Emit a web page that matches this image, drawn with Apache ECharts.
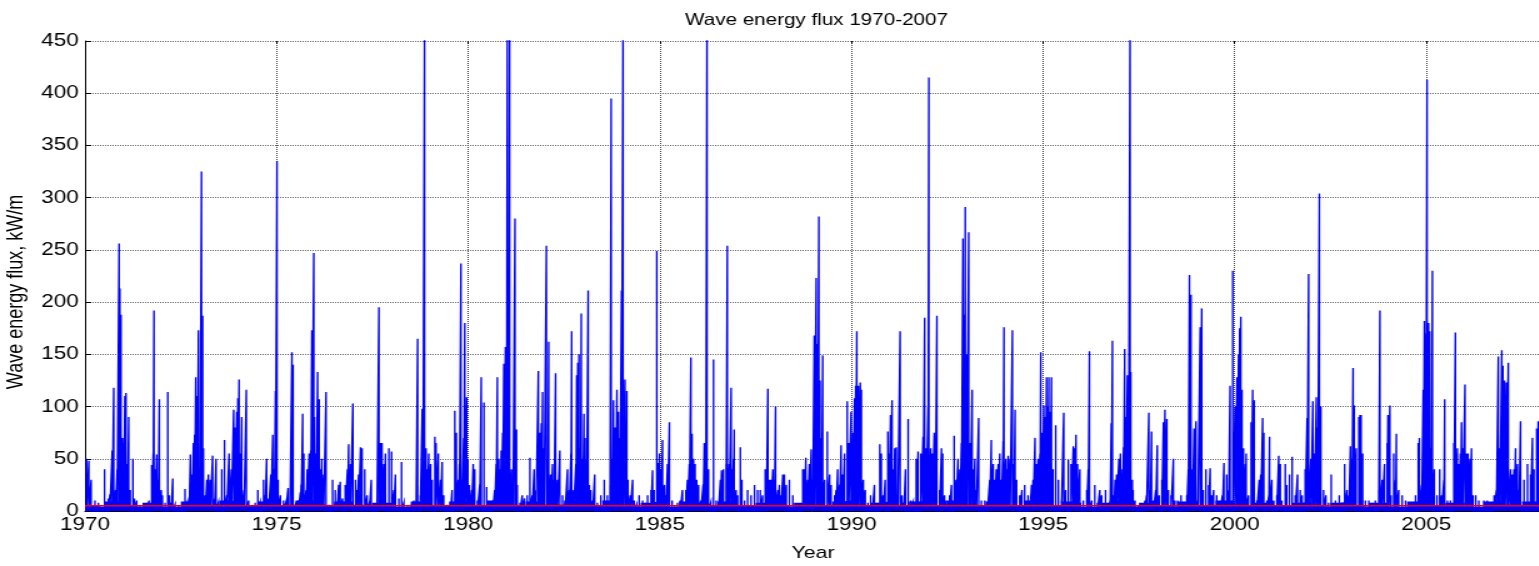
<!DOCTYPE html>
<html style="height: 100%">
<head>
<meta charset="utf-8">
<script src="https://cdn.jsdelivr.net/npm/echarts@6/dist/echarts.min.js"></script>
</head>
<body style="height: 100%; margin: 0; background: #fff">
<!-- the original figure was exported with a horizontal stretch, so the chart is drawn narrower and scaled in x -->
<div id="container" style="width: 1231.2px; height: 566px; transform: scaleX(1.25); transform-origin: 0 0"></div>
<script type="text/javascript">
var titleText = 'Wave energy flux 1970-2007';
var xName = 'Year';
var yName = 'Wave energy flux, kW/m';
var yearTicks = [1970, 1975, 1980, 1985, 1990, 1995, 2000, 2005];
var meanFlux = 5;

// storm peaks: [decimal year, kW/m]
var peaks1970s = [
  [1970.04,50],[1970.10,48],[1970.16,30],[1970.26,10],[1970.35,8],[1970.51,40],[1970.61,12],[1970.65,16],
  [1970.71,58],[1970.75,118],[1970.80,20],[1970.84,40],[1970.89,256],[1970.91,213],[1970.94,188],[1970.98,70],
  [1971.01,65],[1971.04,110],[1971.07,113],[1971.11,45],[1971.14,90],[1971.18,20],[1971.25,50],[1971.29,12],
  [1971.35,10],[1971.44,5],[1971.52,6],[1971.63,8],[1971.67,10],[1971.74,44],[1971.78,55],[1971.80,192],
  [1971.84,40],[1971.87,54],[1971.91,30],[1971.94,107],[1971.99,20],[1972.02,15],[1972.09,8],[1972.16,114],
  [1972.20,15],[1972.25,8],[1972.29,31],[1972.35,6],[1972.44,5],[1972.53,6],[1972.61,21],[1972.67,8],
  [1972.72,10],[1972.75,54],[1972.79,35],[1972.83,65],[1972.86,73],[1972.89,128],[1972.93,110],[1972.96,173],
  [1973.00,30],[1973.04,325],[1973.07,187],[1973.09,60],[1973.14,15],[1973.18,30],[1973.22,35],[1973.27,30],
  [1973.33,53],[1973.38,12],[1973.42,50],[1973.48,8],[1973.57,40],[1973.64,68],[1973.70,15],[1973.76,55],
  [1973.82,40],[1973.88,97],[1973.92,80],[1973.96,95],[1973.99,108],[1974.02,126],[1974.06,55],[1974.09,90],
  [1974.15,20],[1974.21,116],[1974.27,10],[1974.36,5],[1974.44,8],[1974.51,20],[1974.57,8],[1974.66,30],
  [1974.70,15],[1974.74,50],[1974.79,12],[1974.85,35],[1974.90,73],[1974.94,40],[1974.97,115],[1975.01,335],
  [1975.04,30],[1975.10,15],[1975.18,10],[1975.24,8],[1975.30,22],[1975.35,6],[1975.40,152],[1975.43,140],
  [1975.49,6],[1975.57,10],[1975.62,18],[1975.64,25],[1975.68,93],[1975.71,55],[1975.77,20],[1975.80,40],
  [1975.85,55],[1975.89,58],[1975.92,173],[1975.97,247],[1975.99,90],[1976.03,55],[1976.07,133],[1976.11,107],
  [1976.15,40],[1976.18,50],[1976.23,35],[1976.29,114],[1976.36,6],[1976.46,30],[1976.53,20],[1976.58,8],
  [1976.62,25],[1976.66,28],[1976.72,12],[1976.79,25],[1976.85,40],[1976.88,64],[1976.93,45],[1976.99,103],
  [1977.06,30],[1977.10,20],[1977.14,35],[1977.19,61],[1977.23,60],[1977.30,40],[1977.36,15],[1977.42,8],
  [1977.47,30],[1977.54,5],[1977.62,10],[1977.67,195],[1977.71,65],[1977.75,65],[1977.80,45],[1977.84,55],
  [1977.93,60],[1978.00,57],[1978.06,20],[1978.10,35],[1978.19,12],[1978.26,47],[1978.32,8],[1978.41,5],
  [1978.49,6],[1978.58,10],[1978.64,8],[1978.68,165],[1978.75,15],[1978.80,98],[1978.82,85],[1978.86,470],
  [1978.90,60],[1978.93,40],[1978.97,55],[1979.02,45],[1979.06,30],[1979.13,71],[1979.16,65],[1979.22,55],
  [1979.28,30],[1979.32,47],[1979.36,15],[1979.45,6],[1979.54,8],[1979.58,20],[1979.65,96],[1979.69,75],
  [1979.74,30],[1979.77,45],[1979.81,237],[1979.84,30],[1979.88,70],[1979.91,180],[1979.96,109],[1979.99,50]
];
var peaks1980s = [
  [1980.03,25],[1980.09,20],[1980.13,45],[1980.17,40],[1980.24,10],[1980.30,25],[1980.34,128],[1980.41,104],
  [1980.48,23],[1980.57,6],[1980.64,10],[1980.69,20],[1980.73,45],[1980.76,128],[1980.80,50],[1980.84,40],
  [1980.86,58],[1980.90,75],[1980.93,141],[1980.97,157],[1981.00,80],[1981.02,470],[1981.05,80],[1981.08,470],
  [1981.13,40],[1981.17,20],[1981.22,280],[1981.26,78],[1981.28,25],[1981.35,8],[1981.41,15],[1981.47,12],
  [1981.54,15],[1981.61,51],[1981.67,15],[1981.72,40],[1981.77,20],[1981.83,134],[1981.87,75],[1981.91,84],
  [1981.94,114],[1981.98,60],[1982.04,254],[1982.08,50],[1982.10,162],[1982.15,35],[1982.20,45],[1982.24,30],
  [1982.28,132],[1982.33,30],[1982.39,58],[1982.46,15],[1982.53,8],[1982.59,40],[1982.64,20],[1982.68,55],
  [1982.70,172],[1982.75,20],[1982.81,45],[1982.83,130],[1982.86,142],[1982.89,150],[1982.93,60],[1982.95,189],
  [1982.99,50],[1983.02,93],[1983.05,70],[1983.09,50],[1983.13,211],[1983.16,25],[1983.20,20],[1983.25,10],
  [1983.30,35],[1983.37,8],[1983.46,15],[1983.55,30],[1983.63,15],[1983.70,25],[1983.73,395],[1983.77,50],
  [1983.79,106],[1983.83,80],[1983.85,60],[1983.88,116],[1983.92,95],[1983.96,70],[1984.00,211],[1984.04,470],
  [1984.09,126],[1984.12,60],[1984.14,115],[1984.17,30],[1984.23,15],[1984.29,30],[1984.33,10],[1984.39,6],
  [1984.46,15],[1984.55,10],[1984.61,5],[1984.68,15],[1984.77,20],[1984.81,39],[1984.85,20],[1984.92,249],
  [1984.96,46],[1984.99,55],[1985.03,40],[1985.07,68],[1985.12,25],[1985.16,15],[1985.20,45],[1985.25,85],
  [1985.32,10],[1985.39,5],[1985.46,8],[1985.53,10],[1985.59,20],[1985.68,20],[1985.72,30],[1985.77,45],
  [1985.81,147],[1985.84,74],[1985.88,50],[1985.92,45],[1985.96,30],[1986.01,25],[1986.07,10],[1986.13,25],
  [1986.16,65],[1986.20,60],[1986.23,470],[1986.27,40],[1986.33,8],[1986.40,145],[1986.47,10],[1986.53,5],
  [1986.58,30],[1986.61,39],[1986.66,40],[1986.73,45],[1986.76,254],[1986.81,45],[1986.86,118],[1986.89,40],
  [1986.92,50],[1986.94,78],[1986.99,20],[1987.03,15],[1987.10,61],[1987.14,30],[1987.21,10],[1987.29,20],
  [1987.38,15],[1987.47,25],[1987.55,20],[1987.62,20],[1987.68,15],[1987.75,40],[1987.78,25],[1987.82,117],
  [1987.86,30],[1987.90,30],[1987.95,40],[1987.99,30],[1988.02,100],[1988.08,20],[1988.12,25],[1988.16,15],
  [1988.21,35],[1988.25,35],[1988.30,25],[1988.38,30],[1988.47,15],[1988.56,6],[1988.64,5],[1988.73,40],
  [1988.77,40],[1988.81,51],[1988.86,30],[1988.90,45],[1988.95,59],[1988.99,30],[1989.03,168],[1989.08,223],
  [1989.12,160],[1989.15,282],[1989.18,125],[1989.22,70],[1989.25,149],[1989.30,30],[1989.37,76],[1989.43,35],
  [1989.47,25],[1989.56,15],[1989.60,20],[1989.64,40],[1989.69,25],[1989.73,63],[1989.77,35],[1989.82,55],
  [1989.89,105],[1989.93,65],[1989.99,95]
];
var peaks1990s = [
  [1990.04,75],[1990.08,108],[1990.11,120],[1990.14,172],[1990.18,120],[1990.23,123],[1990.26,116],[1990.31,30],
  [1990.36,20],[1990.43,8],[1990.50,15],[1990.55,6],[1990.60,25],[1990.67,8],[1990.74,64],[1990.78,55],
  [1990.83,15],[1990.88,30],[1990.95,76],[1990.98,55],[1991.02,92],[1991.06,106],[1991.10,40],[1991.13,60],
  [1991.17,61],[1991.21,15],[1991.27,172],[1991.32,15],[1991.37,8],[1991.41,40],[1991.48,88],[1991.55,10],
  [1991.61,8],[1991.69,50],[1991.74,57],[1991.81,55],[1991.87,71],[1991.91,185],[1991.95,60],[1992.00,101],
  [1992.02,415],[1992.07,60],[1992.11,55],[1992.16,75],[1992.19,70],[1992.23,187],[1992.30,20],[1992.35,60],
  [1992.38,55],[1992.43,15],[1992.48,10],[1992.56,15],[1992.61,25],[1992.68,72],[1992.73,30],[1992.78,50],
  [1992.83,40],[1992.87,65],[1992.91,261],[1992.95,188],[1992.97,291],[1993.01,150],[1993.06,267],[1993.10,65],
  [1993.15,116],[1993.18,40],[1993.22,50],[1993.26,20],[1993.32,89],[1993.39,10],[1993.48,10],[1993.55,5],
  [1993.61,30],[1993.65,68],[1993.70,45],[1993.74,30],[1993.78,40],[1993.83,45],[1993.87,55],[1993.91,30],
  [1993.96,67],[1993.98,176],[1994.03,50],[1994.06,40],[1994.09,53],[1994.14,50],[1994.20,173],[1994.24,45],
  [1994.27,97],[1994.31,30],[1994.39,15],[1994.45,20],[1994.52,25],[1994.61,15],[1994.66,6],[1994.70,25],
  [1994.74,30],[1994.79,70],[1994.83,45],[1994.87,50],[1994.92,55],[1994.94,152],[1994.98,75],[1995.02,101],
  [1995.06,90],[1995.09,128],[1995.12,100],[1995.15,128],[1995.19,95],[1995.22,128],[1995.26,40],[1995.33,82],
  [1995.40,30],[1995.48,10],[1995.54,94],[1995.59,20],[1995.66,49],[1995.73,45],[1995.79,62],[1995.83,60],
  [1995.86,73],[1995.90,45],[1995.96,40],[1996.05,10],[1996.14,20],[1996.18,40],[1996.21,153],[1996.27,10],
  [1996.35,25],[1996.42,8],[1996.48,20],[1996.53,15],[1996.63,20],[1996.70,5],[1996.75,10],[1996.78,84],
  [1996.81,163],[1996.85,15],[1996.88,30],[1996.92,35],[1996.98,50],[1997.02,55],[1997.07,40],[1997.10,61],
  [1997.13,155],[1997.16,90],[1997.20,130],[1997.23,60],[1997.27,470],[1997.29,133],[1997.33,30],[1997.35,20],
  [1997.40,10],[1997.49,5],[1997.62,5],[1997.66,10],[1997.70,15],[1997.76,94],[1997.80,20],[1997.83,76],
  [1997.88,10],[1997.94,20],[1997.98,63],[1998.03,15],[1998.10,30],[1998.14,85],[1998.18,97],[1998.23,88],
  [1998.27,20],[1998.34,15],[1998.40,50],[1998.44,10],[1998.51,10],[1998.60,15],[1998.66,5],[1998.75,15],
  [1998.79,40],[1998.82,226],[1998.86,207],[1998.90,40],[1998.94,79],[1998.99,86],[1999.04,10],[1999.10,176],
  [1999.14,194],[1999.18,20],[1999.25,40],[1999.32,25],[1999.36,41],[1999.40,15],[1999.45,20],[1999.53,15],
  [1999.62,8],[1999.68,15],[1999.72,46],[1999.79,35],[1999.84,20],[1999.88,120],[1999.95,230]
];
var peaks2000s = [
  [2000.01,100],[2000.06,128],[2000.10,150],[2000.13,175],[2000.16,186],[2000.19,116],[2000.23,60],[2000.28,45],
  [2000.30,55],[2000.36,15],[2000.43,85],[2000.47,116],[2000.51,106],[2000.58,10],[2000.64,30],[2000.68,35],
  [2000.73,89],[2000.76,75],[2000.84,10],[2000.89,15],[2000.91,71],[2000.97,30],[2001.02,10],[2001.10,15],
  [2001.15,53],[2001.19,45],[2001.23,10],[2001.32,45],[2001.36,25],[2001.43,35],[2001.50,52],[2001.58,15],
  [2001.64,35],[2001.71,20],[2001.76,15],[2001.84,40],[2001.89,89],[2001.93,227],[2001.99,50],[2002.04,105],
  [2002.08,55],[2002.13,109],[2002.17,80],[2002.21,304],[2002.25,100],[2002.32,20],[2002.38,15],[2002.45,8],
  [2002.52,35],[2002.63,10],[2002.73,15],[2002.80,8],[2002.87,45],[2002.93,20],[2002.98,15],[2003.02,62],
  [2003.06,50],[2003.09,137],[2003.12,101],[2003.17,60],[2003.24,90],[2003.27,92],[2003.30,92],[2003.34,55],
  [2003.41,10],[2003.50,10],[2003.59,8],[2003.67,10],[2003.76,20],[2003.79,192],[2003.85,30],[2003.91,45],
  [2003.98,65],[2004.00,92],[2004.05,101],[2004.08,15],[2004.15,55],[2004.20,30],[2004.22,74],[2004.28,20],
  [2004.37,15],[2004.46,10],[2004.54,5],[2004.63,8],[2004.72,15],[2004.79,65],[2004.82,70],[2004.88,25],
  [2004.92,116],[2004.95,182],[2004.99,170],[2005.02,413],[2005.06,180],[2005.09,172],[2005.13,60],[2005.16,230],
  [2005.21,40],[2005.28,15],[2005.35,40],[2005.40,15],[2005.46,30],[2005.48,107],[2005.55,10],[2005.63,10],
  [2005.72,65],[2005.76,171],[2005.81,60],[2005.85,45],[2005.89,55],[2005.92,85],[2005.95,60],[2006.01,121],
  [2006.05,55],[2006.09,55],[2006.14,50],[2006.18,60],[2006.22,15],[2006.29,15],[2006.37,10],[2006.50,10],
  [2006.59,10],[2006.68,8],[2006.77,15],[2006.83,20],[2006.88,148],[2006.92,60],[2006.97,154],[2007.00,139],
  [2007.04,125],[2007.09,123],[2007.14,142],[2007.20,40],[2007.24,35],[2007.29,40],[2007.33,60],[2007.38,45],
  [2007.42,20],[2007.46,86],[2007.55,30],[2007.64,45],[2007.72,35],[2007.77,70],[2007.81,40],[2007.88,79],
  [2007.92,86],[2007.98,50]
];

// calm-sea level under the spikes, one value per quarter (Jan-Mar, Apr-Jun, Jul-Sep, Oct-Dec)
var floorYears = [1970,1971,1972,1973,1974,1975,1976,1977,1978,1979,1980,1981,1982,1983,1984,1985,1986,1987,1988,
  1989,1990,1991,1992,1993,1994,1995,1996,1997,1998,1999,2000,2001,2002,2003,2004,2005,2006,2007];
var floorLevels = [
  [8,5,4,9],[9,5,4,8],[8,4,4,9],[10,6,5,10],[9,5,5,9],[9,5,5,10],[10,6,5,9],[9,6,5,8],[8,4,4,9],[9,5,5,9],
  [9,5,5,10],[10,5,5,9],[9,6,6,10],[10,5,5,10],[10,5,4,8],[9,4,4,9],[10,5,5,9],[8,5,5,8],[8,5,4,8],[11,6,5,9],
  [10,5,5,8],[9,5,5,9],[10,5,5,10],[10,5,5,9],[9,5,5,10],[11,6,5,9],[8,4,4,8],[10,5,4,8],[9,5,4,9],[9,5,5,10],
  [10,6,5,8],[8,5,5,8],[9,5,4,8],[9,5,4,8],[8,4,4,9],[10,5,5,8],[8,4,4,9],[10,5,5,9]
];

var peaks = peaks1970s.concat(peaks1980s, peaks1990s, peaks2000s);

// each peak drawn as an up-and-down stroke from the zero line, like the original plot() trace
var traceData = [];
peaks.forEach(function (p) {
  traceData.push([p[0], 0], [p[0], p[1]], [p[0], 0]);
});

var floorData = [];
floorYears.forEach(function (y, i) {
  floorLevels[i].forEach(function (v, q) {
    floorData.push([y + q * 0.25, v]);
  });
});
floorData.push([2008, floorLevels[floorLevels.length - 1][3]]);

var font = 'Liberation Sans, Arial, sans-serif';

var dom = document.getElementById('container');
var myChart = echarts.init(dom);

var option = {
  animation: false,
  backgroundColor: '#fff',
  title: {
    text: titleText,
    left: 543,
    top: 7,
    textStyle: { fontFamily: font, fontSize: 16.5, fontWeight: 'normal', color: '#000' }
  },
  grid: { left: 68, right: -2, top: 41, bottom: 55, containLabel: false, outerBoundsMode: 'none' },
  xAxis: [{
    type: 'value',
    min: yearTicks[0],
    max: 2008,
    interval: 5,
    name: xName,
    nameLocation: 'middle',
    nameGap: 34,
    nameTextStyle: { fontFamily: font, fontSize: 17, color: '#000' },
    axisLine: { show: true, lineStyle: { color: '#000', width: 1 } },
    axisTick: { inside: true, length: 4, lineStyle: { color: '#000' } },
    axisLabel: {
      margin: 5, showMaxLabel: false,
      fontFamily: font, fontSize: 18, color: '#000',
      formatter: function (v) { return yearTicks.indexOf(v) >= 0 ? String(v) : ''; }
    },
    splitLine: { show: true, lineStyle: { color: '#444', type: 'dotted', width: 1 } }
  }, {
    type: 'value',
    position: 'top',
    min: yearTicks[0],
    max: 2008,
    interval: 5,
    axisLine: { show: false },
    axisTick: { inside: true, length: 3, lineStyle: { color: '#000' } },
    axisLabel: { show: false },
    splitLine: { show: false }
  }],
  yAxis: {
    type: 'value',
    min: 0,
    max: 450,
    interval: 50,
    name: yName,
    nameLocation: 'middle',
    nameGap: 37.5,
    nameTextStyle: { fontFamily: font, fontSize: 18, color: '#000', padding: [0, 32, 0, 0] },
    axisLine: { show: true, lineStyle: { color: '#000', width: 1 } },
    axisTick: { inside: true, length: 5, lineStyle: { color: '#000' } },
    axisLabel: { margin: 5, fontFamily: font, fontSize: 18, color: '#000' },
    splitLine: { show: true, lineStyle: { color: '#666', type: 'dotted', width: 1 } }
  },
  series: [{
    name: 'floor',
    type: 'line',
    step: 'start',
    data: floorData,
    symbol: 'none',
    lineStyle: { width: 0 },
    areaStyle: { color: '#0000ff', opacity: 1 },
    z: 2
  }, {
    name: 'flux',
    type: 'line',
    data: traceData,
    symbol: 'none',
    clip: true,
    lineStyle: { color: '#0000ff', width: 1.35, join: 'miter' },
    z: 3
  }, {
    name: 'mean',
    type: 'line',
    data: [[yearTicks[0], meanFlux], [2008, meanFlux]],
    symbol: 'none',
    lineStyle: { color: '#ff0000', width: 1.5 },
    z: 4
  }]
};

myChart.setOption(option);
</script>
</body>
</html>
